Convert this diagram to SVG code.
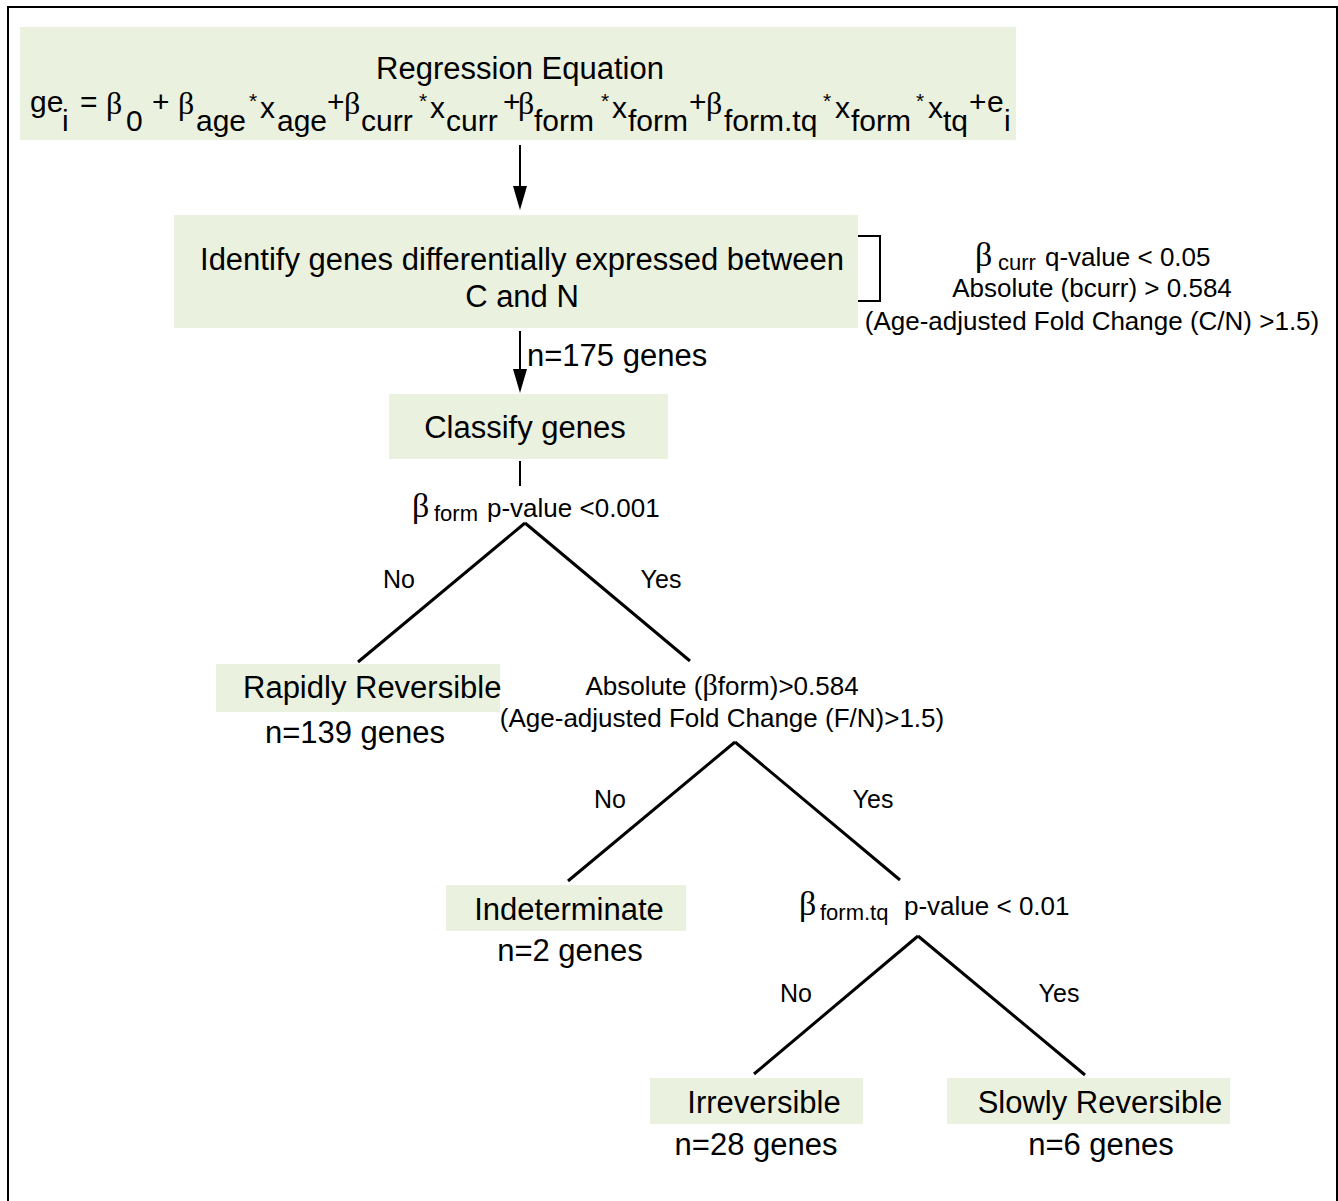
<svg xmlns="http://www.w3.org/2000/svg" width="1338" height="1201" viewBox="0 0 1338 1201">
<defs>
<style>
.box{fill:#EBF1DF;stroke:none}
text{font-family:"Liberation Sans",Arial,sans-serif;fill:#000}
.t31{font-size:31px}
.t30{font-size:30px}
.t26{font-size:26px}
.t25{font-size:25px}
.sub{font-size:22px}
.ast{font-size:21px}
.beta{font-family:"Liberation Serif","Times New Roman",serif}
.c{text-anchor:middle}
.ln{stroke:#000;stroke-width:3;fill:none;stroke-linecap:butt}
.thin{stroke:#000;stroke-width:2;fill:none}
.head{fill:#000;stroke:none}
</style>
</defs>
<rect width="1338" height="1201" fill="#fff"/>
<path d="M8,1210 V7 H1337 V1210" fill="none" stroke="#000" stroke-width="2"/>

<g id="node-regression">
<rect class="box" x="20" y="27" width="996" height="113"/>
<text class="t31 c" x="520" y="79">Regression Equation</text>
<text class="t30"><tspan x="30" y="112">ge</tspan><tspan x="62" y="131">i</tspan><tspan x="80" y="112">=</tspan><tspan class="beta" x="106" y="114" font-size="32">β</tspan><tspan x="126" y="131">0</tspan><tspan x="152" y="112">+</tspan><tspan class="beta" x="178" y="114" font-size="32">β</tspan><tspan x="196" y="131">age</tspan><tspan class="ast" x="249" y="108">*</tspan><tspan x="260" y="118">x</tspan><tspan x="277" y="131">age</tspan><tspan x="327" y="112">+</tspan><tspan class="beta" x="344" y="114" font-size="32">β</tspan><tspan x="361" y="131">curr</tspan><tspan class="ast" x="419" y="108">*</tspan><tspan x="430" y="118">x</tspan><tspan x="446" y="131">curr</tspan><tspan x="503" y="112">+</tspan><tspan class="beta" x="518" y="114" font-size="32">β</tspan><tspan x="534" y="131">form</tspan><tspan class="ast" x="601" y="108">*</tspan><tspan x="612" y="118">x</tspan><tspan x="628" y="131">form</tspan><tspan x="689" y="112">+</tspan><tspan class="beta" x="706" y="114" font-size="32">β</tspan><tspan x="724" y="131">form.tq</tspan><tspan class="ast" x="823" y="108">*</tspan><tspan x="835" y="118">x</tspan><tspan x="851" y="131">form</tspan><tspan class="ast" x="916" y="108">*</tspan><tspan x="928" y="118">x</tspan><tspan x="943" y="131">tq</tspan><tspan x="969" y="112">+</tspan><tspan x="987" y="112">e</tspan><tspan x="1004" y="131">i</tspan></text>
</g>

<g id="node-identify">
<rect class="box" x="174" y="215" width="684" height="113"/>
<text class="t31 c" x="522" y="270">Identify genes differentially expressed between</text>
<text class="t31 c" x="522" y="307">C and N</text>
</g>

<g id="criteria-identify">
<path class="thin" d="M858,236 H880 V301 H858"/>
<text class="t26"><tspan class="beta" x="975" y="266" font-size="34">β</tspan><tspan class="sub" x="998" y="270">curr</tspan><tspan x="1045" y="266">q-value &lt; 0.05</tspan></text>
<text class="t26 c" x="1092" y="297">Absolute (bcurr) &gt; 0.584</text>
<text class="t26 c" x="1092" y="330">(Age-adjusted Fold Change (C/N) &gt;1.5)</text>
</g>

<g id="node-classify">
<rect class="box" x="389" y="394" width="279" height="65"/>
<text class="t31 c" x="525" y="438">Classify genes</text>
</g>

<g id="decision-form">
<text class="t26"><tspan class="beta" x="412" y="517" font-size="34">β</tspan><tspan class="sub" x="434" y="521">form</tspan><tspan x="487" y="517">p-value &lt;0.001</tspan></text>
</g>

<g id="node-rapidly">
<rect class="box" x="216" y="664" width="284" height="48"/>
<text class="t31" x="243" y="698">Rapidly Reversible</text>
<text class="t31 c" x="355" y="743">n=139 genes</text>
</g>

<g id="decision-abs-form">
<text class="t26 c" x="722" y="695">Absolute (<tspan class="beta" font-size="30">β</tspan>form)&gt;0.584</text>
<text class="t26 c" x="722" y="727">(Age-adjusted Fold Change (F/N)&gt;1.5)</text>
</g>

<g id="node-indeterminate">
<rect class="box" x="446" y="885" width="240" height="46"/>
<text class="t31 c" x="569" y="920">Indeterminate</text>
<text class="t31 c" x="570" y="961">n=2 genes</text>
</g>

<g id="decision-formtq">
<text class="t26"><tspan class="beta" x="799" y="915" font-size="34">β</tspan><tspan class="sub" x="820" y="920">form.tq</tspan><tspan x="904" y="915">p-value &lt; 0.01</tspan></text>
</g>

<g id="node-irreversible">
<rect class="box" x="650" y="1078" width="213" height="46"/>
<text class="t31 c" x="764" y="1113">Irreversible</text>
<text class="t31 c" x="756" y="1155">n=28 genes</text>
</g>

<g id="node-slowly">
<rect class="box" x="947" y="1078" width="283" height="46"/>
<text class="t31 c" x="1100" y="1113">Slowly Reversible</text>
<text class="t31 c" x="1101" y="1155">n=6 genes</text>
</g>

<g id="connectors">
<line class="thin" x1="520" y1="145" x2="520" y2="192"/>
<path class="head" d="M513,186 L527,186 L520,210 Z"/>
<line class="thin" x1="520" y1="331" x2="520" y2="375"/>
<path class="head" d="M513,369 L527,369 L520,393 Z"/>
<text class="t31" x="527" y="366">n=175 genes</text>
<line class="thin" x1="520" y1="461" x2="520" y2="486"/>
<line class="ln" x1="525" y1="523" x2="358" y2="662"/>
<line class="ln" x1="525" y1="523" x2="690" y2="661"/>
<text class="t25 c" x="399" y="588">No</text>
<text class="t25 c" x="661" y="588">Yes</text>
<line class="ln" x1="735" y1="742" x2="568" y2="881"/>
<line class="ln" x1="735" y1="742" x2="900" y2="880"/>
<text class="t25 c" x="610" y="808">No</text>
<text class="t25 c" x="873" y="808">Yes</text>
<line class="ln" x1="918" y1="936" x2="754" y2="1074"/>
<line class="ln" x1="918" y1="936" x2="1085" y2="1075"/>
<text class="t25 c" x="796" y="1002">No</text>
<text class="t25 c" x="1059" y="1002">Yes</text>
</g>
</svg>
